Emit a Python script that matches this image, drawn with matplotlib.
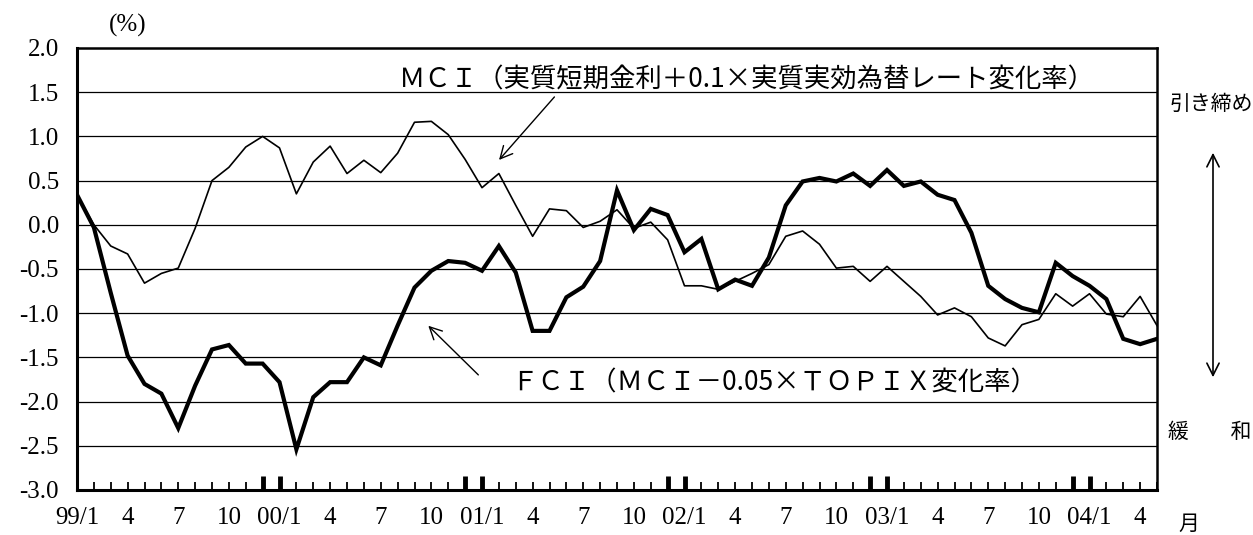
import numpy as np
import matplotlib.pyplot as plt

plt.rcParams['font.family'] = ['Liberation Serif', 'Noto Sans CJK JP']

# monthly, 99/1 .. 04/5
mci = [0.34, 0.0, -0.24, -0.33, -0.66, -0.55, -0.49, -0.04, 0.50, 0.65, 0.88, 1.0,
       0.87, 0.35, 0.71, 0.89, 0.58, 0.73, 0.59, 0.81, 1.16, 1.17, 1.02, 0.74,
       0.42, 0.58, 0.22, -0.13, 0.18, 0.16, -0.03, 0.04, 0.17, -0.04, 0.03, -0.17,
       -0.69, -0.69, -0.73, -0.64, -0.55, -0.45, -0.13, -0.07, -0.22, -0.49, -0.47, -0.64,
       -0.47, -0.64, -0.81, -1.02, -0.94, -1.04, -1.28, -1.37, -1.13, -1.07, -0.78, -0.92,
       -0.78, -1.01, -1.04, -0.81, -1.14]
fci = [0.34, -0.03, -0.77, -1.48, -1.80, -1.91, -2.30, -1.82, -1.41, -1.36, -1.57, -1.57,
       -1.78, -2.54, -1.95, -1.78, -1.78, -1.50, -1.59, -1.14, -0.71, -0.52, -0.41, -0.43,
       -0.52, -0.24, -0.54, -1.20, -1.20, -0.82, -0.70, -0.41, 0.39, -0.06, 0.18, 0.11,
       -0.31, -0.16, -0.73, -0.62, -0.69, -0.37, 0.22, 0.49, 0.53, 0.49, 0.58, 0.44,
       0.62, 0.44, 0.49, 0.34, 0.28, -0.09, -0.69, -0.84, -0.94, -0.99, -0.43, -0.58,
       -0.69, -0.84, -1.29, -1.35, -1.29]

x_labels = ['99/1', '4', '7', '10', '00/1', '4', '7', '10', '01/1', '4', '7', '10',
            '02/1', '4', '7', '10', '03/1', '4', '7', '10', '04/1', '4']
y_ticks = [-3.0, -2.5, -2.0, -1.5, -1.0, -0.5, 0.0, 0.5, 1.0, 1.5, 2.0]
y_labels = ['-3.0', '-2.5', '-2.0', '-1.5', '-1.0', '-0.5', '0.0', '0.5', '1.0', '1.5', '2.0']

mci_label = 'ＭＣＩ（実質短期金利＋0.1×実質実効為替レート変化率）'
fci_label = 'ＦＣＩ（ＭＣＩ－0.05×ＴＯＰＩＸ変化率）'

x = np.arange(len(mci))

fig = plt.figure(figsize=(12.53, 5.35), dpi=100)
ax = fig.add_axes([77/1253, 45/535, 1080/1253, 442/535])

for v in y_ticks[1:-1]:
    ax.axhline(v, color='black', lw=0.9, zorder=1)

ax.plot(x, mci, color='black', lw=1.2, zorder=3)
ax.plot(x, fci, color='black', lw=3.0, zorder=4, solid_joinstyle='miter')

ax.set_xlim(0, 64)
ax.set_ylim(-3, 2)

ax.set_yticks(y_ticks)
ax.set_yticklabels(y_labels)
ax.tick_params(axis='y', length=0, pad=13, labelsize=18)

# every month gets a small tick, labels only every quarter
ax.xaxis.remove_overlapping_locs = False
ax.set_xticks(x)
lbls = [''] * len(x)
for i, s in enumerate(x_labels):
    lbls[i * 3] = s
ax.set_xticklabels(lbls)
ax.tick_params(axis='x', which='major', direction='in', length=6, width=1.3,
               pad=12, labelsize=18)
ax.set_xticks([m for m in x if m % 12 in (0, 11) and 0 < m < 64], minor=True)
ax.tick_params(axis='x', which='minor', direction='in', length=10, width=3.5)

for s in ['left', 'bottom']:
    ax.spines[s].set_linewidth(2.2)
for s in ['top', 'right']:
    ax.spines[s].set_linewidth(1.8)

ax.text(19.1, 1.64, mci_label, family=['Noto Sans CJK JP'], fontsize=19,
        va='center', ha='left')
ax.text(25.7, -1.79, fci_label, family=['Noto Sans CJK JP'], fontsize=19,
        va='center', ha='left')
ax.annotate('', xy=(24.9, 0.71), xytext=(28.4, 1.47),
            arrowprops=dict(arrowstyle='->', lw=1.0, mutation_scale=22))
ax.annotate('', xy=(20.7, -1.12), xytext=(23.9, -1.72),
            arrowprops=dict(arrowstyle='->', lw=1.0, mutation_scale=22))

fig.text(128/1253, 1 - 25/535, '(%)', fontsize=18, ha='center', va='center')
fig.text(1211/1253, 1 - 104/535, '引き締め', family=['Noto Sans CJK JP'],
         fontsize=15, ha='center', va='center')
fig.text(1210/1253, 1 - 432/535, '緩　　和', family=['Noto Sans CJK JP'],
         fontsize=15, ha='center', va='center')
fig.text(1189/1253, 1 - 524/535, '月', family=['Noto Sans CJK JP'],
         fontsize=15, ha='center', va='center')
ax.annotate('', xy=(1213/1253, 1 - 150/535), xytext=(1213/1253, 1 - 380/535),
            xycoords='figure fraction', textcoords='figure fraction',
            arrowprops=dict(arrowstyle='<->', lw=1.2, mutation_scale=22))

fig.savefig('out.png', dpi=100)
